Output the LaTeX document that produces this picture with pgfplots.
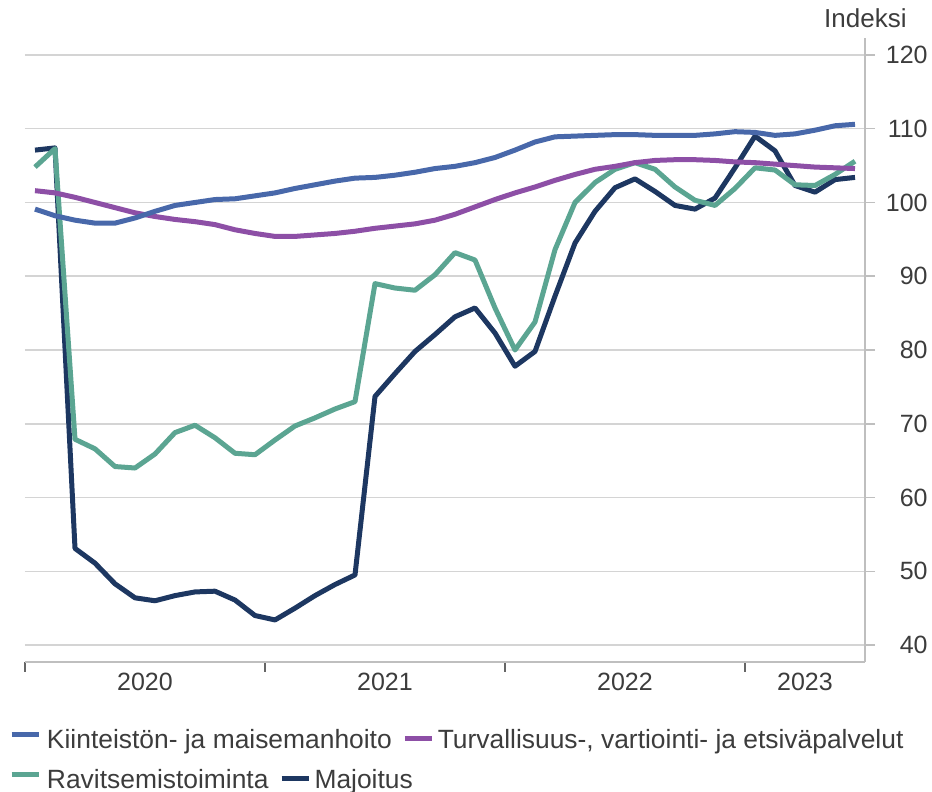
\documentclass[border=0pt]{standalone}
\usepackage{fontspec}
\setmainfont{Liberation Sans}
\usepackage{pgfplots}
\pgfplotsset{compat=1.18}
\definecolor{kblue}{RGB}{72,104,170}
\definecolor{kpurple}{RGB}{141,79,166}
\definecolor{kteal}{RGB}{91,165,146}
\definecolor{knavy}{RGB}{29,55,97}
\definecolor{tgray}{RGB}{60,60,60}
\definecolor{ggray}{RGB}{212,212,212}
\definecolor{agray}{RGB}{191,191,191}
\newcommand{\tickfont}{\fontsize{12.5}{15}\selectfont}
\newcommand{\legfont}{\fontsize{13.2}{16}\selectfont}
\begin{document}
\begin{tikzpicture}
\path[use as bounding box] (-12.5pt,-65pt) rectangle (453.5pt,331pt);
\begin{axis}[
  at={(0,0)}, anchor=south west,
  scale only axis, width=420pt, height=312pt,
  xmin=-0.5, xmax=41.5, ymin=37.7, ymax=122.3,
  clip=false,
  axis x line*=bottom, axis y line*=right,
  x axis line style={draw=agray, line width=0.75pt, -},
  y axis line style={draw=none, -},
  ytick={40,50,...,120},
  ymajorgrids, grid style={draw=ggray, line width=0.75pt},
  tick align=outside,
  ytick style={draw=agray, line width=0.75pt},
  y tick label style={anchor=east, inner sep=0pt, xshift=26.5pt},
  xtick={-0.5,11.5,23.5,35.5},
  xticklabels={},
  xtick style={draw=black!60, line width=1pt},
  major tick length=5pt,
  extra x ticks={5.5,17.5,29.5,38.5},
  extra x tick labels={2020,2021,2022,2023},
  extra x tick style={major tick length=0pt},
  x tick label style={anchor=base, inner sep=0pt, yshift=-14.5pt},
  tick label style={font=\tickfont, text=tgray},
  /pgf/number format/assume math mode=true,
  reverse legend,
  legend cell align=left,
  legend columns=1,
  legend style={at={(0,0)}, anchor=north west, xshift=-8pt, yshift=-33.5pt,
    draw=none, fill=none, inner sep=0pt, outer sep=0pt, row sep=7.5pt,
    font=\legfont, text=tgray,
    nodes={inner sep=0pt, text height=9.5pt, text depth=3pt},
    /tikz/every odd column/.style={column sep=3pt}},
  legend image code/.code={\draw[#1, line width=2.5pt] (0pt,3.4pt) -- (13.5pt,3.4pt);},
  every axis plot/.append style={line width=2.5pt, line join=round, mark=none},
]
\draw[agray, line width=0.75pt] (rel axis cs:1,0) -- (rel axis cs:1,1);
\addplot[knavy, forget plot] coordinates {
(0,107.1)(1,107.4)(2,53.1)(3,51.1)(4,48.3)(5,46.4)(6,46.0)(7,46.7)(8,47.2)(9,47.3)
(10,46.1)(11,44.0)(12,43.4)(13,45.0)(14,46.7)(15,48.2)(16,49.5)(17,73.7)(18,76.8)(19,79.8)
(20,82.1)(21,84.5)(22,85.7)(23,82.3)(24,77.8)(25,79.8)(26,87.3)(27,94.5)(28,98.8)(29,102.0)
(30,103.2)(31,101.5)(32,99.6)(33,99.1)(34,100.6)(35,104.7)(36,109.0)(37,107.0)(38,102.3)(39,101.4)
(40,103.1)(41,103.4)};
\addplot[kteal] coordinates {
(0,104.8)(1,107.3)(2,67.9)(3,66.6)(4,64.2)(5,64.0)(6,65.9)(7,68.8)(8,69.8)(9,68.1)
(10,66.0)(11,65.8)(12,67.8)(13,69.7)(14,70.8)(15,72.0)(16,73.0)(17,89.0)(18,88.4)(19,88.1)
(20,90.2)(21,93.2)(22,92.2)(23,85.7)(24,80.0)(25,83.8)(26,93.6)(27,100.0)(28,102.7)(29,104.5)
(30,105.4)(31,104.5)(32,102.1)(33,100.3)(34,99.6)(35,101.9)(36,104.7)(37,104.4)(38,102.4)(39,102.3)
(40,103.8)(41,105.6)};
\addlegendentry{Ravitsemistoiminta\hspace{6.5pt}\textcolor{knavy}{\rule[3.4pt]{13.5pt}{2.5pt}}\hspace{3pt}Majoitus}
\addplot[kpurple, forget plot] coordinates {
(0,101.6)(1,101.3)(2,100.7)(3,100.0)(4,99.3)(5,98.6)(6,98.1)(7,97.7)(8,97.4)(9,97.0)
(10,96.3)(11,95.8)(12,95.4)(13,95.4)(14,95.6)(15,95.8)(16,96.1)(17,96.5)(18,96.8)(19,97.1)
(20,97.6)(21,98.4)(22,99.4)(23,100.4)(24,101.3)(25,102.1)(26,103.0)(27,103.8)(28,104.5)(29,104.9)
(30,105.4)(31,105.7)(32,105.8)(33,105.8)(34,105.7)(35,105.5)(36,105.4)(37,105.2)(38,105.0)(39,104.8)
(40,104.7)(41,104.6)};
\addplot[kblue] coordinates {
(0,99.1)(1,98.2)(2,97.6)(3,97.2)(4,97.2)(5,97.9)(6,98.8)(7,99.6)(8,100.0)(9,100.4)
(10,100.5)(11,100.9)(12,101.3)(13,101.9)(14,102.4)(15,102.9)(16,103.3)(17,103.4)(18,103.7)(19,104.1)
(20,104.6)(21,104.9)(22,105.4)(23,106.1)(24,107.1)(25,108.2)(26,108.9)(27,109.0)(28,109.1)(29,109.2)
(30,109.2)(31,109.1)(32,109.1)(33,109.1)(34,109.3)(35,109.6)(36,109.5)(37,109.1)(38,109.3)(39,109.8)
(40,110.4)(41,110.6)};
\addlegendentry{Kiinteistön- ja maisemanhoito\hspace{6.5pt}\textcolor{kpurple}{\rule[3.4pt]{13.5pt}{2.5pt}}\hspace{3pt}Turvallisuus-, vartiointi- ja etsiväpalvelut}
\node[anchor=base east, inner sep=0pt, font=\fontsize{13}{15}\selectfont, text=tgray] at (rel axis cs:1,1) [xshift=21pt, yshift=5pt] {Indeksi};
\end{axis}
\end{tikzpicture}
\end{document}
